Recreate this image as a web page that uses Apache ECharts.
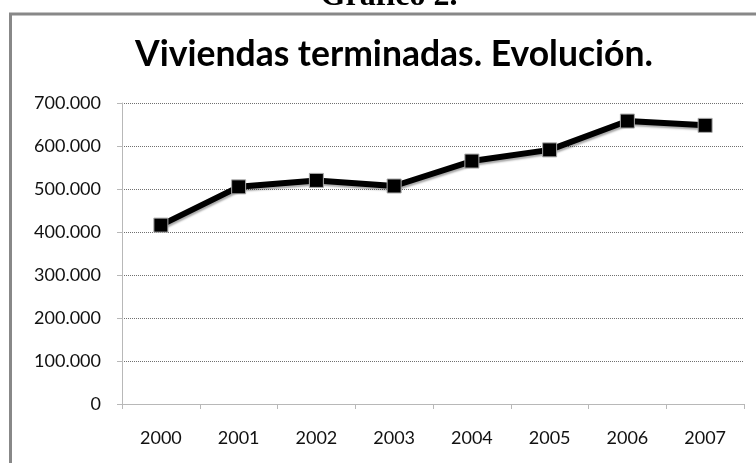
<!DOCTYPE html>
<html>
<head>
<meta charset="utf-8">
<script src="https://cdn.jsdelivr.net/npm/echarts@6/dist/echarts.min.js"></script>
<style>
html,body{margin:0;padding:0;background:#fff;}
#c{width:756px;height:463px;}
</style>
</head>
<body>
<div id="c"></div>
<script>
var years = ['2000','2001','2002','2003','2004','2005','2006','2007'];
var viviendas = [416000, 505000, 520000, 507000, 565000, 591000, 658000, 648000];
var yTicks = [0, 100000, 200000, 300000, 400000, 500000, 600000, 700000];

function fmt(v){ return String(v).replace(/\B(?=(\d{3})+(?!\d))/g, '.'); }

var chart = echarts.init(document.getElementById('c'), null, {renderer:'canvas'});
chart.setOption({
  animation: false,
  backgroundColor: '#fff',
  title: {
    text: 'Viviendas terminadas. Evolución.',
    left: 389, top: 32, textAlign: 'center',
    textStyle: {fontFamily: 'Lato', fontSize: 35.5, fontWeight: 'bold', color: '#000'}
  },
  graphic: [
    {type:'rect', shape:{x:10.5, y:14, width:800, height:500}, style:{fill:'none', stroke:'#888888', lineWidth:3}, silent:true},
    {type:'text', x:389, y:13, silent:true, style:{text:'Gráfico 2.', fontFamily:'Liberation Serif', fontSize:32, fontWeight:'bold', fill:'#000', align:'center', verticalAlign:'bottom'}}
  ],
  grid: {left: 122, right: 12, top: 103, bottom: 59},
  xAxis: {
    type: 'category', data: years, boundaryGap: true,
    axisLine: {show:true, lineStyle:{color:'#b8b8b8', width:1}},
    axisTick: {show:true, length:5, lineStyle:{color:'#b8b8b8'}},
    axisLabel: {fontFamily:'Lato', fontSize:18, color:'#111', margin:25},
    splitLine: {show:false}
  },
  yAxis: {
    type: 'value', min: 0, max: 700000, interval: 100000,
    axisLine: {show:true, lineStyle:{color:'#b8b8b8', width:1}},
    axisTick: {show:true, length:5, lineStyle:{color:'#b8b8b8'}},
    axisLabel: {fontFamily:'Lato', fontSize:18, color:'#111', margin:21, formatter: function(v){ return fmt(v); }},
    splitLine: {show:true, lineStyle:{color:'#707070', type:[1,1], width:1}}
  },
  series: [{
    type: 'line', data: viviendas,
    lineStyle: {color:'#000', width:6, shadowColor:'rgba(0,0,0,0.35)', shadowBlur:2, shadowOffsetX:1, shadowOffsetY:2},
    symbol: 'rect', symbolSize: 14, showAllSymbol: true,
    itemStyle: {color:'#000', borderColor:'#aaa', borderWidth:1},
    emphasis: {disabled:true}
  }]
});
</script>
</body>
</html>
